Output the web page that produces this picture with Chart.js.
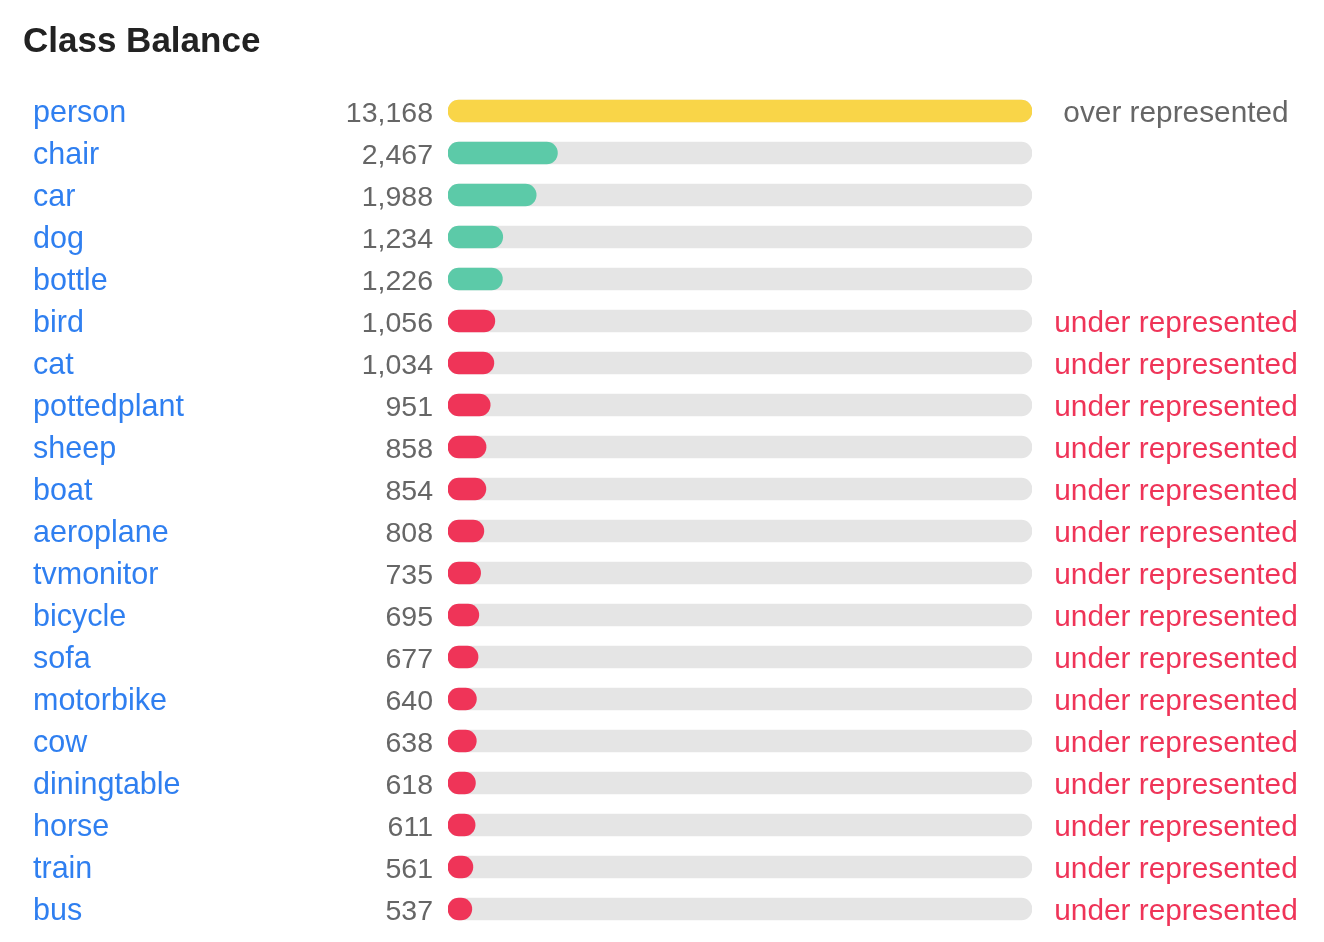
<!DOCTYPE html>
<html>
<head>
<meta charset="utf-8">
<title>Class Balance</title>
<script src="https://cdn.jsdelivr.net/npm/chart.js@4.4.0/dist/chart.umd.min.js"></script>
<style>
  html, body { margin: 0; padding: 0; background: #fff; }
  #wrap { position: relative; width: 1324px; height: 942px; }
</style>
</head>
<body>
<div id="wrap"><canvas id="balanceChart" width="1324" height="942"></canvas></div>
<script>
// data
const classNames = ['person', 'chair', 'car', 'dog', 'bottle', 'bird', 'cat', 'pottedplant', 'sheep', 'boat',
    'aeroplane', 'tvmonitor', 'bicycle', 'sofa', 'motorbike', 'cow', 'diningtable', 'horse', 'train', 'bus'];
const counts = [13168, 2467, 1988, 1234, 1226, 1056, 1034, 951, 858, 854,
    808, 735, 695, 677, 640, 638, 618, 611, 561, 537];
const balance = ['over represented', '', '', '', '', 'under represented', 'under represented', 'under represented',
    'under represented', 'under represented', 'under represented', 'under represented', 'under represented',
    'under represented', 'under represented', 'under represented', 'under represented', 'under represented',
    'under represented', 'under represented'];

const maxCount = Math.max(...counts);
const FONT = '"Liberation Sans", Arial, Helvetica, sans-serif';

function barColor(label) {
    if (label.startsWith('over')) return '#f9d548';
    if (label.startsWith('under')) return '#ef3458';
    return '#5ccaa8';
}

// draws the title and the three text columns next to the bars
const textColumns = {
    id: 'textColumns',
    afterDatasetsDraw(chart) {
        const ctx = chart.ctx;
        const area = chart.chartArea;
        const yScale = chart.scales.y;
        ctx.save();

        ctx.fillStyle = '#222';
        ctx.font = 'bold 35px ' + FONT;
        ctx.textAlign = 'left';
        ctx.textBaseline = 'alphabetic';
        ctx.fillText('Class Balance', 23, 52);

        ctx.textBaseline = 'middle';
        for (let i = 0; i < classNames.length; i++) {
            const y = yScale.getPixelForValue(i) + 3;

            ctx.font = '30.5px ' + FONT;
            ctx.textAlign = 'left';
            ctx.fillStyle = '#2f7ff0';
            ctx.fillText(classNames[i], 33, y);

            ctx.font = '28.5px ' + FONT;
            ctx.textAlign = 'right';
            ctx.fillStyle = '#666';
            ctx.fillText(counts[i].toLocaleString('en-US'), area.left - 15, y);

            if (balance[i]) {
                ctx.font = '29.8px ' + FONT;
                ctx.textAlign = 'center';
                ctx.fillStyle = balance[i].startsWith('under') ? '#ef3458' : '#666';
                ctx.fillText(balance[i], area.right + 144, y);
            }
        }
        ctx.restore();
    }
};

const ctx = document.getElementById('balanceChart').getContext('2d');
const chart = new Chart(ctx, {
    type: 'bar',
    data: {
        labels: classNames,
        datasets: [{
            label: 'count',
            data: counts,
            backgroundColor: balance.map(barColor),
            barThickness: 22,
            borderRadius: 11,
            borderSkipped: false,
            grouped: false,
            order: 1
        }, {
            label: 'track',
            data: counts.map(() => maxCount),
            backgroundColor: '#e5e5e5',
            barThickness: 22,
            borderRadius: 11,
            borderSkipped: false,
            grouped: false,
            order: 2
        }]
    },
    options: {
        indexAxis: 'y',
        responsive: false,
        animation: false,
        devicePixelRatio: 1,
        layout: {
            padding: { left: 448, right: 292, top: 90, bottom: 12 }
        },
        scales: {
            x: { display: false, min: 0, max: maxCount },
            y: { display: false }
        },
        plugins: {
            legend: { display: false },
            tooltip: { enabled: false }
        }
    },
    plugins: [textColumns]
});
</script>
</body>
</html>
